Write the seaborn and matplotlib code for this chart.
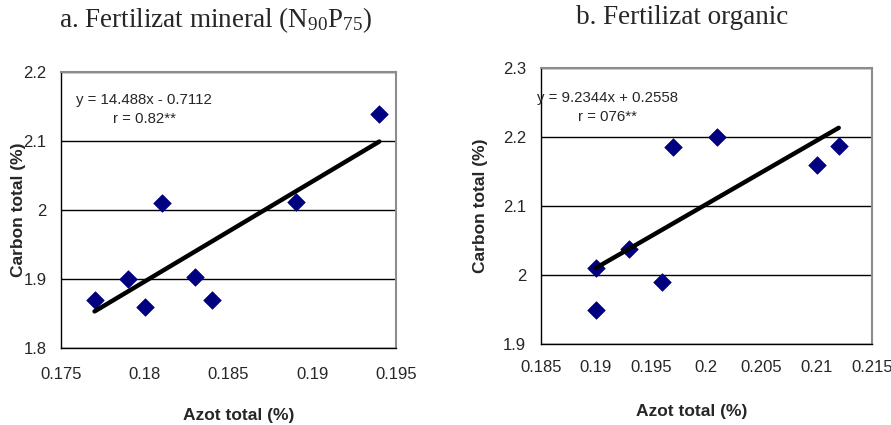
import numpy as np
import pandas as pd
import matplotlib
matplotlib.use("Agg")
import matplotlib.pyplot as plt
import seaborn as sns

# DATA
# a. mineral fertiliser
azot_min = [0.177, 0.179, 0.180, 0.181, 0.183, 0.184, 0.189, 0.194]
carbon_min = [1.870, 1.900, 1.860, 2.010, 1.903, 1.870, 2.012, 2.140]
slope_min, intercept_min = 14.488, -0.7112

# b. organic fertiliser
azot_org = [0.190, 0.190, 0.193, 0.196, 0.197, 0.201, 0.210, 0.212]
carbon_org = [2.010, 1.950, 2.038, 1.990, 2.185, 2.200, 2.160, 2.187]
slope_org, intercept_org = 9.2344, 0.2558

titles = [r"a. Fertilizat mineral (N$\mathregular{_{90}}$P$\mathregular{_{75}}$)",
          "b. Fertilizat organic"]
equations = ["y = 14.488x - 0.7112\nr = 0.82**",
             "y = 9.2344x + 0.2558\nr = 076**"]
xticks_min = [0.175, 0.18, 0.185, 0.19, 0.195]
yticks_min = [1.8, 1.9, 2.0, 2.1, 2.2]
xticks_org = [0.185, 0.19, 0.195, 0.2, 0.205, 0.21, 0.215]
yticks_org = [1.9, 2.0, 2.1, 2.2, 2.3]

sns.set_style("white")
plt.rcParams["font.family"] = ["Liberation Sans", "DejaVu Sans"]
plt.rcParams["mathtext.fontset"] = "custom"
plt.rcParams["mathtext.rm"] = "Liberation Serif"


def draw_panel(ax, xs, ys, slope, intercept, xticks, yticks, eq_text, eq_pos, xpad):
    df = pd.DataFrame({"x": xs, "y": ys})
    x_line = np.array([min(xs), max(xs)])
    line_df = pd.DataFrame({"x": x_line, "y": slope * x_line + intercept})

    sns.scatterplot(data=df, x="x", y="y", ax=ax, marker="D", s=80,
                    color="#000080", edgecolor="#000080", linewidth=0.5, zorder=3)
    sns.lineplot(data=line_df, x="x", y="y", ax=ax, color="black",
                 linewidth=3.2, zorder=4)

    ax.set_xlim(xticks[0], xticks[-1])
    ax.set_ylim(yticks[0], yticks[-1])
    ax.set_xticks(xticks)
    ax.set_yticks(yticks)
    ax.set_xticklabels([f"{v:g}" for v in xticks], fontsize=12)
    ax.set_yticklabels([f"{v:g}" for v in yticks], fontsize=12)
    ax.tick_params(axis="x", direction="out", length=3, width=1, pad=xpad, color="black")
    ax.tick_params(axis="y", direction="out", length=3, width=1, pad=7.5, color="black")

    ax.yaxis.grid(True, color="black", linewidth=1)
    ax.xaxis.grid(False)
    ax.set_axisbelow(True)

    for side in ["left", "bottom"]:
        ax.spines[side].set_color("black")
        ax.spines[side].set_linewidth(1)
    for side in ["top", "right"]:
        ax.spines[side].set_color("#8c8c8c")
        ax.spines[side].set_linewidth(1.5)
    for sp in ax.spines.values():
        sp.set_visible(True)

    ax.set_xlabel("Azot total (%)", fontsize=12.5, fontweight="bold", va="center")
    ax.set_ylabel("Carbon total (%)", fontsize=12.5, fontweight="bold", va="center")

    ax.text(eq_pos[0], eq_pos[1], eq_text, transform=ax.transAxes,
            ha="center", va="center", fontsize=10.8, linespacing=1.45, zorder=5)


fig = plt.figure(figsize=(8.91, 4.25), dpi=100)
ax1 = fig.add_axes([0.0685, 0.181, 0.376, 0.649])
ax2 = fig.add_axes([0.607, 0.1906, 0.3715, 0.649])

draw_panel(ax1, azot_min, carbon_min, slope_min, intercept_min,
           xticks_min, yticks_min, equations[0], (0.248, 0.866), 10.5)
draw_panel(ax2, azot_org, carbon_org, slope_org, intercept_org,
           xticks_org, yticks_org, equations[1], (0.2, 0.859), 8.5)

ax1.yaxis.set_label_coords(-0.128, 0.5)
ax1.xaxis.set_label_coords(0.531, -0.243)
ax2.yaxis.set_label_coords(-0.181, 0.5)
ax2.xaxis.set_label_coords(0.456, -0.246)

fig.text(216 / 891, 1 - 20 / 425, titles[0], ha="center", va="center",
         fontsize=19.5, family="Liberation Serif")
fig.text(682 / 891, 1 - 18 / 425, titles[1], ha="center", va="center",
         fontsize=19.5, family="Liberation Serif")

fig.savefig("out.png", dpi=100, facecolor="white")
